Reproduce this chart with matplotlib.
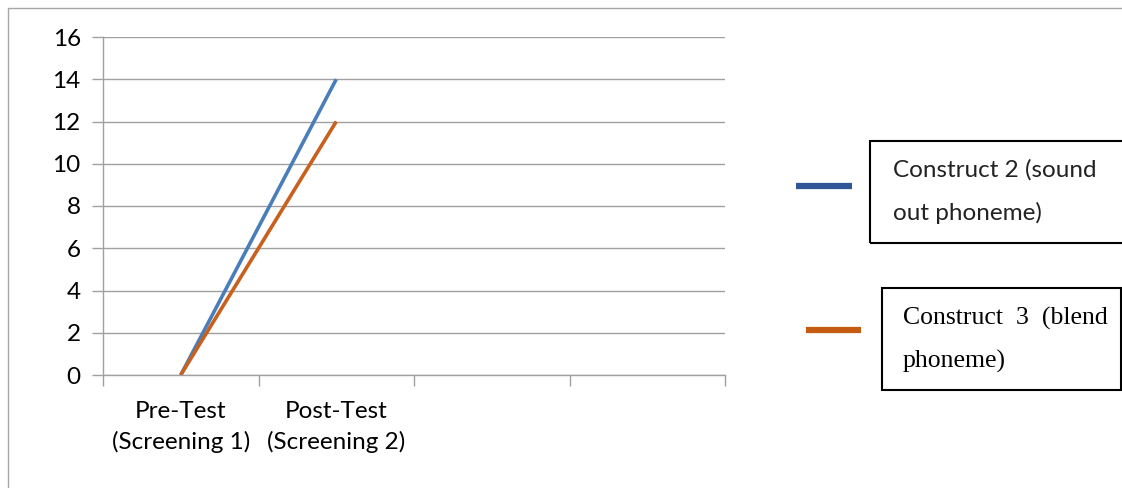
import matplotlib.pyplot as plt
from matplotlib.patches import Rectangle
from matplotlib.lines import Line2D

categories = ["Pre-Test\n(Screening 1)", "Post-Test\n(Screening 2)", "", ""]
construct2 = [0, 14]
construct3 = [0, 12]
y_ticks = [0, 2, 4, 6, 8, 10, 12, 14, 16]

fig = plt.figure(figsize=(11.22, 4.88), dpi=100)
W, H = 1122, 488

def fx(px):
    return px / W

def fy(py):
    return 1 - py / H

# outer frame
fig.add_artist(Rectangle((fx(8), fy(600)), 2, fy(8) - fy(600), transform=fig.transFigure,
                         fill=False, edgecolor='#a6a6a6', linewidth=1))

ax = fig.add_axes([fx(103), fy(375), fx(725) - fx(103), fy(37) - fy(375)])
grey = '#a0a0a0'
ax.plot(range(len(construct2)), construct2, color='#4a7ebb', linewidth=2.6, solid_capstyle='butt')
ax.plot(range(len(construct3)), construct3, color='#c8601e', linewidth=2.6, solid_capstyle='butt')

ax.set_xlim(-0.5, len(categories) - 0.5)
ax.set_ylim(0, 16)
ax.set_yticks(y_ticks)
ax.set_yticklabels([str(v) for v in y_ticks], fontfamily='Lato', fontsize=17.5)
ax.yaxis.grid(True, color=grey, linewidth=1)
ax.set_axisbelow(True)

ax.set_xticks([i - 0.5 for i in range(len(categories) + 1)])
ax.set_xticklabels([])
ax.set_xticks(range(len(categories)), minor=True)
ax.set_xticklabels(categories, minor=True, fontfamily='Lato', fontsize=17.5, linespacing=1.47)
ax.tick_params(axis='x', which='minor', length=0, pad=19)
ax.tick_params(axis='x', which='major', length=8, color=grey, width=1)
ax.tick_params(axis='y', length=8, color=grey, width=1, pad=8)

for s in ['top', 'right']:
    ax.spines[s].set_visible(False)
for s in ['left', 'bottom']:
    ax.spines[s].set_color(grey)
    ax.spines[s].set_linewidth(1)

# legend boxes drawn manually
fig.add_artist(Rectangle((fx(870), fy(243)), fx(1130) - fx(870), fy(141) - fy(243),
                         transform=fig.transFigure, fill=False, edgecolor='black', linewidth=1.5))
fig.add_artist(Rectangle((fx(882), fy(390)), fx(1121) - fx(882), fy(288) - fy(390),
                         transform=fig.transFigure, fill=False, edgecolor='black', linewidth=1.5))
fig.add_artist(Line2D([fx(796), fx(852)], [fy(186), fy(186)], transform=fig.transFigure,
                      color='#2f5597', linewidth=4.5, solid_capstyle='butt'))
fig.add_artist(Line2D([fx(806), fx(861)], [fy(330), fy(330)], transform=fig.transFigure,
                      color='#c55a11', linewidth=4.5, solid_capstyle='butt'))

fig.text(fx(893), fy(170), "Construct 2 (sound", fontfamily='Lato', fontsize=17.5,
         va='center', ha='left', color='#222222')
fig.text(fx(893), fy(213), "out phoneme)", fontfamily='Lato', fontsize=17.5,
         va='center', ha='left', color='#222222')
fig.text(fx(903), fy(318), "Construct  3  (blend", fontfamily='Liberation Serif', fontsize=18.5,
         va='center', ha='left', color='black')
fig.text(fx(903), fy(361), "phoneme)", fontfamily='Liberation Serif', fontsize=18.5,
         va='center', ha='left', color='black')

fig.savefig('out.png', dpi=100)
